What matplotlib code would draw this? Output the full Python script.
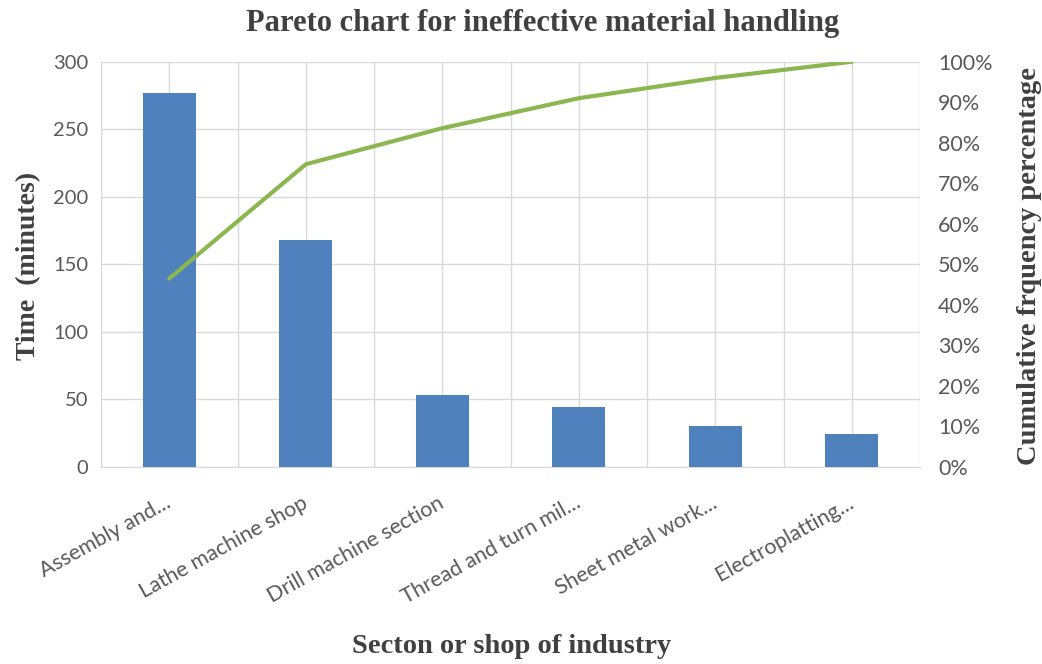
import matplotlib
matplotlib.use("Agg")
import matplotlib.pyplot as plt
from matplotlib.ticker import FixedLocator, FuncFormatter

# Time lost per section (minutes) and cumulative share
sections = ["Assembly and...", "Lathe machine shop", "Drill machine section",
            "Thread and turn mil...", "Sheet metal work...", "Electroplatting..."]
time_minutes = [277, 168, 53, 44, 30, 24]
cumulative_pct = [46.5, 74.7, 83.6, 91.0, 96.0, 100.0]

time_ticks = [0, 50, 100, 150, 200, 250, 300]
pct_ticks = [0, 10, 20, 30, 40, 50, 60, 70, 80, 90, 100]

BAR = "#4f81bd"
LINE = "#8cb650"
GRID = "#d9d9d9"
TICK = "#595959"
LABEL = "#404040"

fig = plt.figure(figsize=(10.42, 6.64), dpi=100)
ax = fig.add_axes([0.097, 0.297, 0.786, 0.610])
ax2 = ax.twinx()

x = list(range(len(sections)))
ax.bar(x, time_minutes, width=0.39, color=BAR, zorder=3)
ax2.plot(x, cumulative_pct, color=LINE, lw=3.0, solid_capstyle="round", zorder=4)

ax.set_xlim(-0.5, len(sections) - 0.5)
ax.set_ylim(0, 300)
ax2.set_ylim(0, 100)

ax.set_yticks(time_ticks)
ax.set_xticks(x)
ax.xaxis.set_minor_locator(FixedLocator([i - 0.5 for i in range(len(sections) + 1)]))
ax.set_xticklabels(sections, rotation=29, ha="right", va="center",
                   rotation_mode="anchor", fontsize=15.5, color=TICK, family="Lato")
for lab in ax.get_yticklabels():
    lab.set_fontsize(14.5)
    lab.set_color(TICK)
    lab.set_family("Lato")

ax2.set_yticks(pct_ticks)
ax2.yaxis.set_major_formatter(FuncFormatter(lambda v, _: f"{int(v)}%"))
for lab in ax2.get_yticklabels():
    lab.set_fontsize(15.5)
    lab.set_color(TICK)
    lab.set_family("Lato")

ax.grid(True, which="major", axis="y", color=GRID, lw=1.0, zorder=0)
ax.grid(True, which="both", axis="x", color=GRID, lw=1.0, zorder=0)
ax.set_axisbelow(True)

ax.tick_params(axis="both", which="both", length=0)
ax.tick_params(axis="y", pad=9)
ax.tick_params(axis="x", pad=25)
ax2.tick_params(axis="y", length=0, pad=13)

for a in (ax, ax2):
    for s in a.spines.values():
        s.set_visible(False)
ax.spines["bottom"].set_visible(True)
ax.spines["bottom"].set_color(GRID)

serif = "Liberation Serif"
fig.text(0.521, 0.965, "Pareto chart for ineffective material handling",
         ha="center", va="center", fontsize=22, fontweight="bold",
         family=serif, color=LABEL)
fig.text(0.027, 0.60, "Time  (minutes)", rotation=90, ha="center", va="center",
         fontsize=20, fontweight="bold", family=serif, color=LABEL)
fig.text(0.988, 0.60, "Cumulative frquency percentage", rotation=90,
         ha="center", va="center", fontsize=20.5, fontweight="bold",
         family=serif, color=LABEL)
fig.text(0.491, 0.027, "Secton or shop of industry", ha="center", va="center",
         fontsize=20.5, fontweight="bold", family=serif, color=LABEL)

fig.savefig("out.png", dpi=100, facecolor="white")
